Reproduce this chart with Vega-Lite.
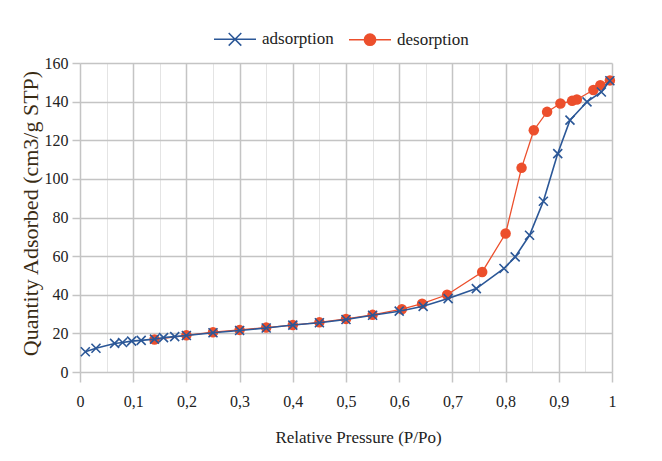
{
  "$schema": "https://vega.github.io/schema/vega-lite/v6.json",
  "width": 532,
  "height": 309,
  "autosize": "none",
  "padding": {"left": 80, "top": 63, "right": 50, "bottom": 89},
  "background": "white",
  "config": {"view": {"stroke": null}, "font": "Liberation Serif"},
  "data": {
    "values": [
      {"series": "desorption", "P": 0.14, "Q": 16.8},
      {"series": "desorption", "P": 0.2, "Q": 19.0},
      {"series": "desorption", "P": 0.25, "Q": 20.6},
      {"series": "desorption", "P": 0.3, "Q": 21.8},
      {"series": "desorption", "P": 0.35, "Q": 23.0},
      {"series": "desorption", "P": 0.4, "Q": 24.3},
      {"series": "desorption", "P": 0.45, "Q": 25.7},
      {"series": "desorption", "P": 0.5, "Q": 27.5},
      {"series": "desorption", "P": 0.55, "Q": 29.6},
      {"series": "desorption", "P": 0.605, "Q": 32.5},
      {"series": "desorption", "P": 0.643, "Q": 35.4},
      {"series": "desorption", "P": 0.69, "Q": 40.0},
      {"series": "desorption", "P": 0.756, "Q": 51.8},
      {"series": "desorption", "P": 0.8, "Q": 71.7},
      {"series": "desorption", "P": 0.83, "Q": 105.7},
      {"series": "desorption", "P": 0.853, "Q": 125.2},
      {"series": "desorption", "P": 0.878, "Q": 134.7},
      {"series": "desorption", "P": 0.903, "Q": 139.0},
      {"series": "desorption", "P": 0.925, "Q": 140.4},
      {"series": "desorption", "P": 0.934, "Q": 141.1},
      {"series": "desorption", "P": 0.965, "Q": 146.0},
      {"series": "desorption", "P": 0.978, "Q": 148.5},
      {"series": "desorption", "P": 0.996, "Q": 151.0},
      {"series": "adsorption", "P": 0.01, "Q": 10.5},
      {"series": "adsorption", "P": 0.03, "Q": 12.3},
      {"series": "adsorption", "P": 0.065, "Q": 14.8},
      {"series": "adsorption", "P": 0.08, "Q": 15.3},
      {"series": "adsorption", "P": 0.097, "Q": 16.0},
      {"series": "adsorption", "P": 0.115, "Q": 16.4},
      {"series": "adsorption", "P": 0.14, "Q": 17.0},
      {"series": "adsorption", "P": 0.157, "Q": 17.8},
      {"series": "adsorption", "P": 0.178, "Q": 18.3},
      {"series": "adsorption", "P": 0.2, "Q": 18.9},
      {"series": "adsorption", "P": 0.25, "Q": 20.3},
      {"series": "adsorption", "P": 0.3, "Q": 21.5},
      {"series": "adsorption", "P": 0.35, "Q": 22.8},
      {"series": "adsorption", "P": 0.4, "Q": 24.3},
      {"series": "adsorption", "P": 0.45, "Q": 25.5},
      {"series": "adsorption", "P": 0.5, "Q": 27.2},
      {"series": "adsorption", "P": 0.55, "Q": 29.4},
      {"series": "adsorption", "P": 0.6, "Q": 31.5},
      {"series": "adsorption", "P": 0.645, "Q": 34.0},
      {"series": "adsorption", "P": 0.692, "Q": 38.0},
      {"series": "adsorption", "P": 0.745, "Q": 43.2},
      {"series": "adsorption", "P": 0.797, "Q": 53.6},
      {"series": "adsorption", "P": 0.818, "Q": 59.6},
      {"series": "adsorption", "P": 0.845, "Q": 70.8},
      {"series": "adsorption", "P": 0.871, "Q": 88.4},
      {"series": "adsorption", "P": 0.898, "Q": 113.1},
      {"series": "adsorption", "P": 0.921, "Q": 130.4},
      {"series": "adsorption", "P": 0.953, "Q": 139.9},
      {"series": "adsorption", "P": 0.98, "Q": 145.0},
      {"series": "adsorption", "P": 0.996, "Q": 150.8}
    ]
  },
  "encoding": {
    "x": {
      "field": "P", "type": "quantitative",
      "scale": {"domain": [0, 1], "nice": false, "zero": false},
      "axis": {
        "values": [0, 0.05, 0.1, 0.15, 0.2, 0.25, 0.3, 0.35, 0.4, 0.45, 0.5, 0.55, 0.6, 0.65, 0.7, 0.75, 0.8, 0.85, 0.9, 0.95, 1],
        "grid": true,
        "gridColor": {"condition": {"test": "round(datum.value*100) % 10 != 0", "value": "#e4e4e4"}, "value": "#c4c4c4"},
        "gridWidth": {"condition": {"test": "round(datum.value*100) % 10 != 0", "value": 1}, "value": 1.5},
        "domain": false,
        "ticks": true,
        "tickSize": 10,
        "tickWidth": 1.5,
        "tickColor": {"condition": {"test": "round(datum.value*100) % 10 != 0", "value": "transparent"}, "value": "#c4c4c4"},
        "labelExpr": "round(datum.value*100) % 10 == 0 ? replace(toString(round(datum.value*10)/10), '.', ',') : ''",
        "labelFont": "Liberation Serif",
        "labelFontSize": 16,
        "labelColor": "#222222",
        "labelPadding": 11,
        "labelFlush": false,
        "labelOverlap": false,
        "title": "Relative Pressure (P/Po)",
        "titleFont": "Liberation Serif",
        "titleFontSize": 17,
        "titleFontWeight": "normal",
        "titleColor": "#222222",
        "titleX": 278,
        "titleY": 65,
        "titleAlign": "center",
        "titleBaseline": "middle"
      }
    },
    "y": {
      "field": "Q", "type": "quantitative",
      "scale": {"domain": [0, 160], "nice": false},
      "axis": {
        "values": [0, 20, 40, 60, 80, 100, 120, 140, 160],
        "grid": true,
        "gridColor": "#c4c4c4",
        "gridWidth": 1.5,
        "domain": false,
        "tickSize": 8,
        "tickWidth": 1.5,
        "tickColor": "#c4c4c4",
        "labelFont": "Liberation Serif",
        "labelFontSize": 16,
        "labelColor": "#222222",
        "labelPadding": 4,
        "title": "Quantity Adsorbed (cm3/g STP)",
        "titleFont": "Liberation Serif",
        "titleFontSize": 22,
        "titleFontWeight": "normal",
        "titleColor": "#3a2c14",
        "titleX": -50,
        "titleY": 150,
        "titleAngle": -90,
        "titleAlign": "center",
        "titleBaseline": "middle"
      }
    },
    "color": {
      "field": "series", "type": "nominal",
      "scale": {"domain": ["adsorption", "desorption"], "range": ["#2b5797", "#ec4f2c"]},
      "legend": {
        "orient": "none",
        "legendX": 133,
        "legendY": -46,
        "direction": "horizontal",
        "title": null,
        "labelFont": "Liberation Serif",
        "labelFontSize": 17,
        "labelColor": "#222222",
        "symbolSize": 1764,
        "labelOffset": 5,
        "columnPadding": 12,
        "symbolStrokeWidth": 1.5,
        "encode": {
          "symbols": {
            "update": {
              "shape": {"signal": "datum.value == 'adsorption' ? 'M-1,0H1M-0.3,-0.3L0.3,0.3M-0.3,0.3L0.3,-0.3' : 'M-1,0H1M0.27,0A0.27,0.27 0 1,1 -0.27,0A0.27,0.27 0 1,1 0.27,0Z'"},
              "fill": {"signal": "datum.value == 'adsorption' ? 'transparent' : '#ec4f2c'"},
              "stroke": {"signal": "datum.value == 'adsorption' ? '#2b5797' : '#ec4f2c'"},
              "strokeWidth": {"value": 1.5},
              "opacity": {"value": 1}
            }
          }
        }
      }
    }
  },
  "layer": [
    {"transform": [{"filter": "datum.series == 'desorption'"}], "mark": {"type": "line", "strokeWidth": 1.3}},
    {"transform": [{"filter": "datum.series == 'desorption'"}], "mark": {"type": "point", "filled": true, "shape": "circle", "size": 110, "opacity": 1}},
    {"transform": [{"filter": "datum.series == 'adsorption'"}], "mark": {"type": "line", "strokeWidth": 1.6}},
    {"transform": [{"filter": "datum.series == 'adsorption'"}], "mark": {"type": "point", "filled": false, "shape": "M-1,-1L1,1M-1,1L1,-1", "size": 81, "strokeWidth": 1.6, "opacity": 1}}
  ]
}
